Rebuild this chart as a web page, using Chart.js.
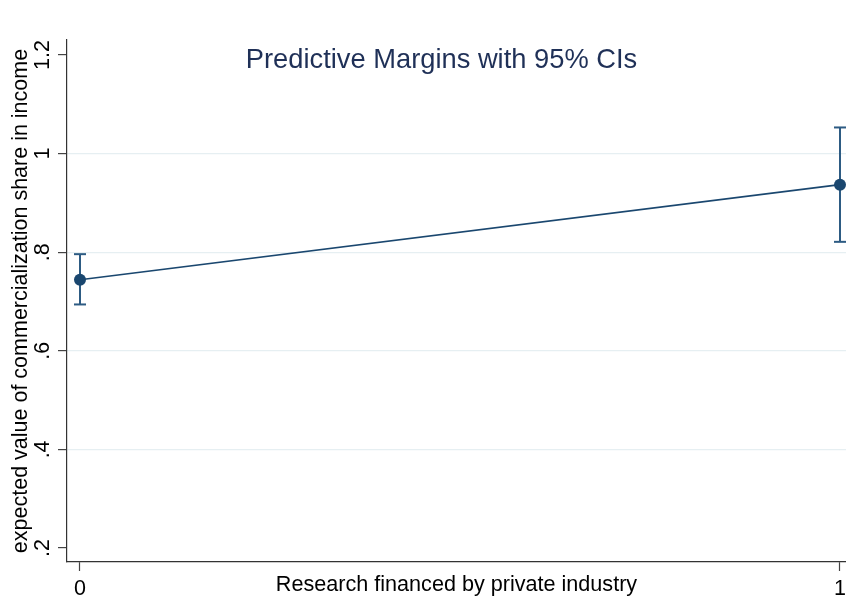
<!DOCTYPE html>
<html>
<head>
<meta charset="utf-8">
<script src="https://cdn.jsdelivr.net/npm/chart.js@4"></script>
<style>
  html, body { margin: 0; padding: 0; background: #fff; overflow: hidden; }
  #wrap { width: 846px; height: 598px; }
  canvas { display: block; }
</style>
</head>
<body>
<div id="wrap"><canvas id="myChart" width="846" height="598"></canvas></div>
<script>
// values
const categories = [0, 1];
const xTickLabels = ['0', '1'];
const margins = [0.744, 0.937];
const ciLower = [0.694, 0.821];
const ciUpper = [0.796, 1.053];
const yTicks = [0.2, 0.4, 0.6, 0.8, 1, 1.2];
const yTickLabels = ['.2', '.4', '.6', '.8', '1', '1.2'];

const navy = '#1a476f';
const ciColor = '#2d5b83';
const fontFamily = '"Liberation Sans", Arial, sans-serif';

// title sits inside the plot region, like Stata does it
const titlePlugin = {
    id: 'insideTitle',
    afterDraw(chart) {
        const ctx = chart.ctx;
        ctx.save();
        ctx.font = '27.3px ' + fontFamily;
        ctx.fillStyle = '#1f3057';
        ctx.textAlign = 'center';
        ctx.textBaseline = 'middle';
        ctx.fillText('Predictive Margins with 95% CIs', 441.5, 60);
        ctx.restore();
    }
};

const datasets = [{
    label: 'margin',
    data: categories.map((c, i) => ({ x: c, y: margins[i] })),
    borderColor: navy,
    borderWidth: 1.6,
    pointRadius: 6,
    pointBackgroundColor: navy,
    pointBorderColor: navy,
    pointBorderWidth: 0,
    clip: false
}];

for (let i = 0; i < categories.length; i++) {
    datasets.push({
        label: 'ci' + i,
        data: [{ x: categories[i], y: ciLower[i] }, { x: categories[i], y: ciUpper[i] }],
        borderColor: ciColor,
        borderWidth: 2,
        pointStyle: 'line',
        pointRadius: 6,
        pointBorderWidth: 2,
        pointBorderColor: ciColor,
        clip: false
    });
}

const ctx = document.getElementById('myChart').getContext('2d');
const myChart = new Chart(ctx, {
    type: 'line',
    data: { datasets: datasets },
    plugins: [titlePlugin],
    options: {
        responsive: false,
        animation: false,
        layout: { autoPadding: false, padding: { top: 40, right: 0, bottom: 0, left: 0 } },
        plugins: {
            legend: { display: false },
            tooltip: { enabled: false }
        },
        scales: {
            x: {
                type: 'linear',
                min: -0.0171,
                max: 1.0079,
                afterBuildTicks: (scale) => { scale.ticks = categories.map(v => ({ value: v })); },
                afterFit: (scale) => {
                    scale.height = 36;
                    scale.paddingLeft = 0;
                    scale.paddingRight = 0;
                },
                ticks: {
                    callback: (value) => xTickLabels[categories.indexOf(value)],
                    color: '#000',
                    font: { family: fontFamily, size: 21.5 },
                    padding: 5,
                    maxRotation: 0,
                    autoSkip: false
                },
                grid: {
                    drawOnChartArea: false,
                    drawTicks: true,
                    tickLength: 9,
                    tickColor: '#444',
                    tickWidth: 1.2
                },
                border: { color: '#333', width: 1.2 },
                title: {
                    display: true,
                    text: 'Research financed by private industry',
                    color: '#000',
                    font: { family: fontFamily, size: 21.6 },
                    padding: { top: 0, bottom: 0 }
                }
            },
            y: {
                type: 'linear',
                min: 0.1716,
                max: 1.2304,
                afterBuildTicks: (scale) => { scale.ticks = yTicks.map(v => ({ value: v })); },
                afterFit: (scale) => {
                    scale.width = 67;
                    scale.paddingTop = 0;
                    scale.paddingBottom = 0;
                },
                ticks: {
                    callback: (value) => yTickLabels[yTicks.findIndex(t => Math.abs(t - value) < 1e-9)],
                    color: '#000',
                    font: { family: fontFamily, size: 21.5 },
                    minRotation: 90,
                    maxRotation: 90,
                    crossAlign: 'center',
                    padding: 0,
                    autoSkip: false
                },
                grid: {
                    color: (c) => (c.tick && (Math.abs(c.tick.value - 0.2) < 1e-9 || Math.abs(c.tick.value - 1.2) < 1e-9)) ? 'rgba(0,0,0,0)' : '#e6eff2',
                    lineWidth: 1.2,
                    drawTicks: true,
                    tickLength: 9,
                    tickColor: '#444',
                    tickWidth: 1.2
                },
                border: { color: '#333', width: 1.2 },
                title: {
                    display: true,
                    text: 'expected value of commercialization share in income',
                    color: '#000',
                    font: { family: fontFamily, size: 21.5 },
                    padding: { top: 8, bottom: 0 }
                }
            }
        }
    }
});
</script>
</body>
</html>
